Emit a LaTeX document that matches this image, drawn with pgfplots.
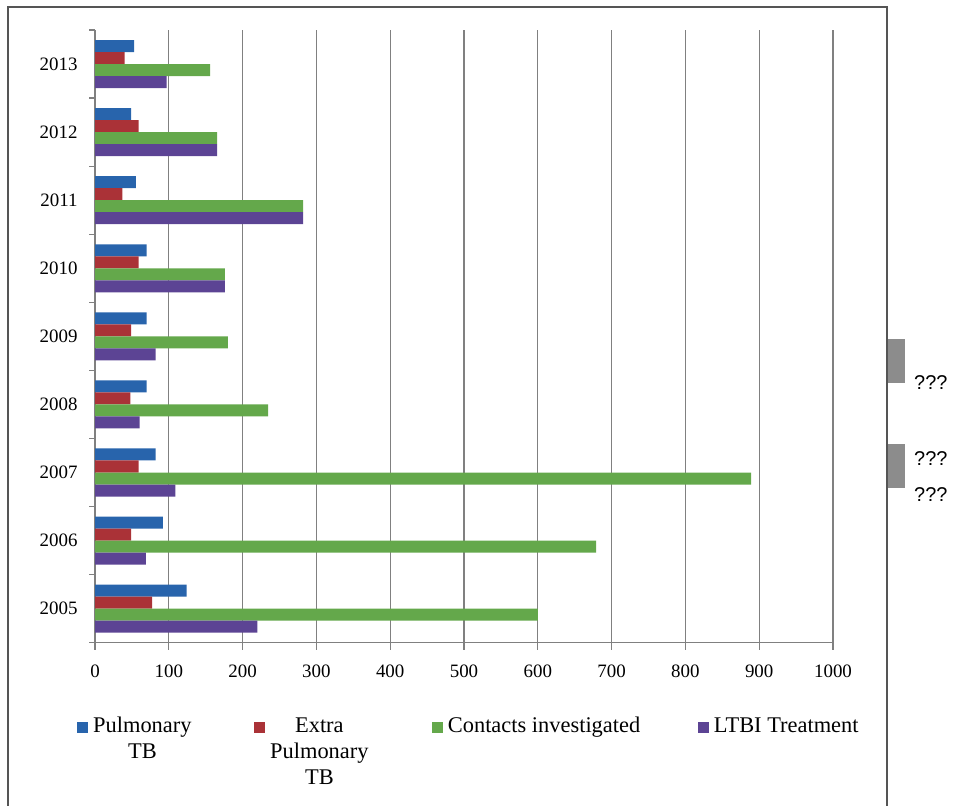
\documentclass[border=0pt]{standalone}
\usepackage{pgfplots}
\pgfplotsset{compat=1.18}
\usepackage{fontspec}
\setmainfont{Liberation Serif}
\newfontfamily\arialfont{Liberation Sans}
\definecolor{cblue}{RGB}{40,100,172}
\definecolor{cred}{RGB}{170,50,55}
\definecolor{cgreen}{RGB}{100,168,75}
\definecolor{cpurple}{RGB}{92,68,148}
\definecolor{framegray}{RGB}{85,85,85}
\definecolor{boxgray}{RGB}{140,140,140}
\definecolor{gridgray}{RGB}{128,128,128}
\begin{document}
\begin{tikzpicture}[x=1bp,y=1bp]
\useasboundingbox (0,0) rectangle (957,806);
\draw[line width=1.3bp, color=framegray] (8,0) -- (8,799) -- (887,799) -- (887,0);
\fill[boxgray] (887.7,423) rectangle (905,467);
\fill[boxgray] (887.7,318) rectangle (905,362);
\node[anchor=west, font=\arialfont\fontsize{20}{24}\selectfont, inner sep=0pt] at (914,423) {???};
\node[anchor=west, font=\arialfont\fontsize{20}{24}\selectfont, inner sep=0pt] at (914,347) {???};
\node[anchor=west, font=\arialfont\fontsize{20}{24}\selectfont, inner sep=0pt] at (914,311) {???};
\begin{axis}[
  at={(95bp,163.3bp)}, anchor=south west,
  scale only axis, width=738bp, height=612.7bp,
  xmin=0, xmax=1000, ymin=-0.5, ymax=8.5,
  xtick={0,100,...,1000},
  ytick={0,1,2,3,4,5,6,7,8},
  yticklabels={2005,2006,2007,2008,2009,2010,2011,2012,2013},
  minor ytick={-0.5,0.5,...,8.5},
  axis x line*=bottom, axis y line*=left,
  axis line style={gridgray, line width=1.2bp},
  tick align=outside,
  major tick length=7bp, minor tick length=6bp,
  major y tick style={draw=none},
  minor y tick style={gridgray, line width=1.2bp},
  major x tick style={gridgray, line width=1.2bp},
  xmajorgrids,
  major x grid style={gridgray, line width=1.2bp},
  /pgf/number format/assume math mode=true,
  /pgf/number format/1000 sep={},
  tick label style={font=\fontsize{19}{22}\selectfont},
  xticklabel style={yshift=-12bp},
  yticklabel style={xshift=-7bp},
  legend columns=4,
  legend cell align=left,
  legend image code/.code={\fill[#1,draw=none,overlay] (0bp,-9.5bp) rectangle (11bp,1.5bp); \path (0bp,-7.5bp) (16bp,3.5bp);},
  legend style={at={(axis description cs:-0.0244,-0.1163)}, anchor=north west,
    draw=none, fill=none, inner sep=0pt, font=\fontsize{22.5}{26}\selectfont,
    column sep=0pt, row sep=0pt, nodes={inner sep=0pt}},
]
\addplot[xbar, bar width=12bp, bar shift=18bp, fill=cblue, draw=none]
  coordinates {(124,0) (92,1) (82,2) (70,3) (70,4) (70,5) (55.5,6) (49,7) (53,8)};
\addlegendentry{\makebox[161bp][l]{\begin{tabular}[t]{@{}c@{}}Pulmonary\\TB\end{tabular}}}
\addplot[xbar, bar width=12bp, bar shift=6bp, fill=cred, draw=none]
  coordinates {(77.5,0) (49,1) (59,2) (48,3) (49,4) (59,5) (37,6) (59,7) (40,8)};
\addlegendentry{\makebox[161.7bp][l]{\begin{tabular}[t]{@{}c@{}}Extra\\Pulmonary\\TB\end{tabular}}}
\addplot[xbar, bar width=12bp, bar shift=-6bp, fill=cgreen, draw=none]
  coordinates {(600,0) (679,1) (889,2) (234.5,3) (180,4) (176,5) (282,6) (165.5,7) (156,8)};
\addlegendentry{\makebox[250bp][l]{\begin{tabular}[t]{@{}l@{}}Contacts investigated\end{tabular}}}
\addplot[xbar, bar width=12bp, bar shift=-18bp, fill=cpurple, draw=none]
  coordinates {(220,0) (69,1) (109,2) (60.5,3) (82,4) (176,5) (282,6) (165.5,7) (97,8)};
\addlegendentry{\begin{tabular}[t]{@{}l@{}}LTBI Treatment\end{tabular}}
\end{axis}
\end{tikzpicture}
\end{document}
